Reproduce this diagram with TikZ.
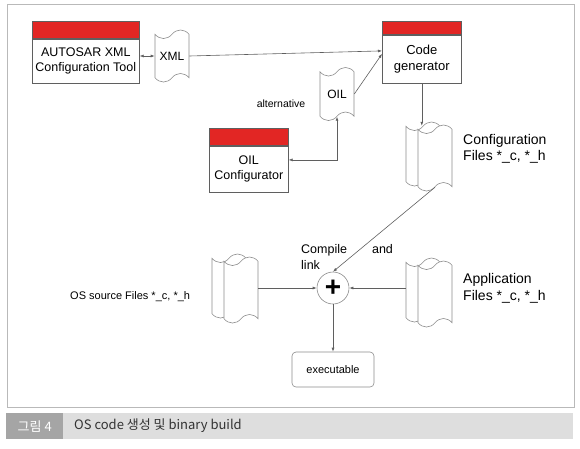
\documentclass[tikz,border=0pt]{standalone}
\usepackage{fontspec}
\setmainfont{Liberation Sans}
\newfontfamily\kofont{Noto Sans CJK KR}
\usepackage{tikz}
\usetikzlibrary{shapes.symbols, arrows.meta, positioning, calc}
\definecolor{barred}{RGB}{226,38,36}
\definecolor{edgegray}{RGB}{95,95,95}
\definecolor{docgray}{RGB}{140,140,140}
\definecolor{framegray}{RGB}{185,185,185}
\definecolor{capdark}{RGB}{165,165,165}
\definecolor{caplight}{RGB}{222,222,222}
\tikzset{
  toolbar/.style={
    draw=edgegray, fill=barred, inner sep=0pt, line width=0.6pt
  },
  toolbox/.style={
    draw=edgegray, fill=white, align=center, inner sep=1pt,
    line width=0.6pt, font=\fontsize{12.5}{15}\selectfont
  },
  scrolldoc/.style={
    tape, draw=docgray, fill=white, line width=0.6pt,
    tape bend top=in and out, tape bend bottom=in and out,
    tape bend height=8.5pt, minimum width=34pt, inner sep=0pt,
    font=\fontsize{12}{14}\selectfont
  },
  flowarrow/.style={
    -{Latex[length=4pt,width=3pt]}, draw=edgegray, line width=0.6pt
  },
  flowline/.style={draw=edgegray, line width=0.6pt},
  notelabel/.style={align=left, inner sep=0pt},
}

\begin{document}
\begin{tikzpicture}[x=1pt, y=-1pt]
  \useasboundingbox (0,0) rectangle (580,448);

  % Frame and caption
  \node[draw=framegray, line width=1pt, minimum width=567pt, minimum height=403pt,
    anchor=north west, inner sep=0pt] (frame) at (6.5,4) {};
  \node[fill=caplight, minimum width=510pt, minimum height=26pt, anchor=north west,
    inner sep=0pt] (capbar) at (63,413) {};
  \node[fill=capdark, minimum width=57pt, minimum height=26pt, anchor=north west,
    inner sep=0pt, text=white, font=\kofont\fontsize{13}{14}\selectfont]
    (captag) at (6,413) {그림 4};
  \node[anchor=west, inner sep=0pt, text=black!80, font=\kofont\fontsize{13}{14}\selectfont]
    (captext) at (74,426) {OS code 생성 및 binary build};

  % Tools
  \node[toolbar, minimum width=107pt, minimum height=17pt, anchor=north west]
    (autosarbar) at (32,21) {};
  \node[toolbox, minimum width=107pt, minimum height=44pt, below=0pt of autosarbar]
    (autosar) {AUTOSAR XML\\Configuration Tool};

  \node[toolbar, minimum width=79pt, minimum height=13pt, anchor=north west]
    (genbar) at (382,21) {};
  \node[toolbox, minimum width=79pt, minimum height=48pt, below=0pt of genbar,
    font=\fontsize{13}{15.5}\selectfont]
    (gen) {Code\\generator};

  \node[toolbar, minimum width=79pt, minimum height=17pt, anchor=north west]
    (oilcfgbar) at (209,128) {};
  \node[toolbox, minimum width=79pt, minimum height=46pt, below=0pt of oilcfgbar]
    (oilcfg) {OIL\\Configurator};

  % Documents
  \node[scrolldoc, minimum height=52pt] (xml) at (172,56) {XML};
  \node[scrolldoc, minimum height=53pt] (oil) at (337,94) {OIL};

  \node[scrolldoc, minimum height=64pt] (cfgback) at (423,154) {};
  \node[scrolldoc, minimum height=66pt] (cfgfront) at (435,158) {};

  \node[scrolldoc, minimum height=64pt] (appback) at (423,290) {};
  \node[scrolldoc, minimum height=66pt] (appfront) at (435,294) {};

  \node[scrolldoc, minimum height=64pt] (osback) at (229,286) {};
  \node[scrolldoc, minimum height=66pt] (osfront) at (241,290) {};

  % Compile and link
  \node[circle, draw=docgray, fill=white, line width=0.6pt, minimum size=32pt,
    inner sep=0pt, font=\bfseries\fontsize{28}{28}\selectfont] (plus) at (333,288) {+};
  \node[draw=docgray, rounded corners=4pt, line width=0.6pt, minimum width=82pt,
    minimum height=35pt, font=\fontsize{11}{13}\selectfont] (exe) at (333,369.5) {executable};

  % Labels
  \node[font=\fontsize{10.5}{12}\selectfont] (altlabel) at (281,104) {alternative};
  \node[notelabel, anchor=west, font=\fontsize{14}{16}\selectfont] (cfglabel) at (463,149)
    {Configuration\\Files *\_c, *\_h};
  \node[notelabel, anchor=west, font=\fontsize{14}{17}\selectfont] (applabel) at (463,288.5)
    {Application\\Files *\_c, *\_h};
  \node[notelabel, anchor=west, font=\fontsize{11}{13}\selectfont] (oslabel) at (70,297)
    {OS source Files *\_c, *\_h};
  \node[notelabel, anchor=west, font=\fontsize{12.5}{16}\selectfont] (compilelabel) at (301,257)
    {Compile\\link};
  \node[font=\fontsize{12.5}{15}\selectfont] (andlabel) at (382.5,249) {and};

  % Connectors
  \draw[flowarrow, {Latex[length=4pt,width=3pt]}-{Latex[length=4pt,width=3pt]}]
    (autosar.east |- xml.west) -- (xml.west);
  \draw[flowarrow] (xml.east) -- ([yshift=8pt]gen.west);
  \draw[flowarrow] (oil.east) -- ([yshift=5pt]gen.west);
  \draw[flowarrow, {Latex[length=4pt,width=3pt]}-{Latex[length=4pt,width=3pt]}]
    (oil.south) |- ([yshift=9pt]oilcfg.east);
  \draw[flowarrow] (gen.south) -- (gen.south |- cfgback.north);
  \draw[flowarrow] (cfgfront.south) -- (plus.north);
  \draw[flowarrow] (osfront.east |- plus.west) -- (plus.west);
  \draw[flowarrow] (appback.west |- plus.east) -- (plus.east);
  \draw[flowarrow] (plus.south) -- (exe.north);
\end{tikzpicture}
\end{document}
